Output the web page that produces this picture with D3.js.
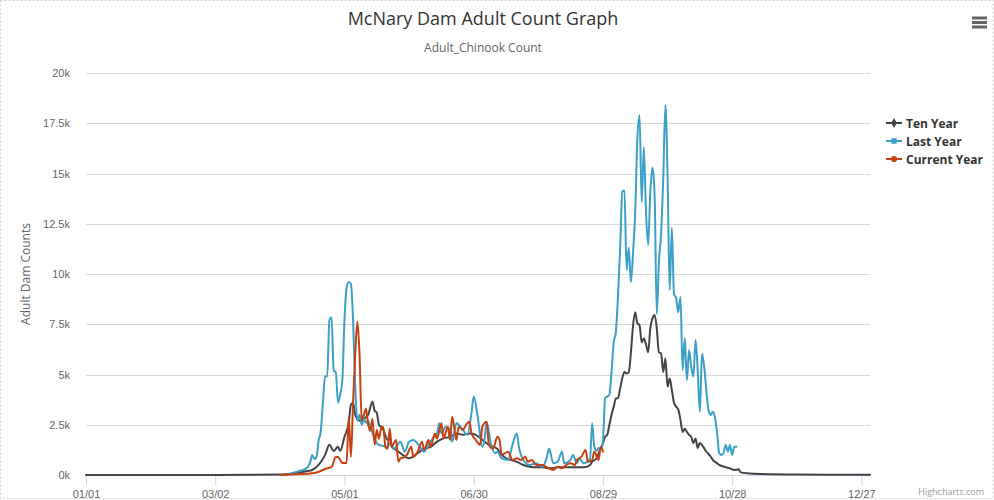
<!DOCTYPE html>
<html>
<head>
<meta charset="utf-8">
<script src="https://cdn.jsdelivr.net/npm/d3@7"></script>
<style>
  html, body { margin: 0; padding: 0; background: #fff; }
  svg { display: block; font-family: "Open Sans", "Noto Sans", sans-serif; }
</style>
</head>
<body>
<svg id="chart" width="994" height="500"></svg>
<script>
// ---------------- DATA (day offset from 01/01, adult count) ----------------
const chartTitle = "McNary Dam Adult Count Graph";
const chartSubtitle = "Adult_Chinook Count";
const yAxisTitle = "Adult Dam Counts";
const seriesNames = ["Ten Year", "Last Year", "Current Year"];
const yTickValues = [0, 2500, 5000, 7500, 10000, 12500, 15000, 17500, 20000];
const xTickDayOffsets = [0, 60, 120, 180, 240, 300, 360];

const tenYearCounts = [
  [0,0],[60,0],[90,20],[96,80],[100,150],[103,200],[105,250],[108,500],[111,1000],[113,1500],
  [115,1200],[117,1400],[118,1200],[120,1900],[122,2600],[123,3500],[124,3600],[125,3000],[127,2700],
  [129,2800],[131,3000],[133,3650],[134,3200],[135,3100],[136,2500],[137,2400],[138,2250],[140,1750],
  [141,1800],[142,1400],[144,1250],[147,1000],[150,830],[154,1080],[156,1250],[160,1400],[163,1660],
  [166,1820],[169,1900],[172,2070],[175,2000],[178,2070],[181,2000],[184,1750],[187,1500],[191,1300],
  [193,1000],[197,750],[200,660],[203,500],[206,410],[209,380],[212,380],[215,330],[219,380],[221,380],
  [225,380],[228,380],[231,380],[234,500],[235,660],[237,830],[238,1080],[240,1580],[241,1900],
  [242,2000],[243,2500],[244,3000],[245,3400],[246,3800],[247,3830],[248,4300],[249,4830],[250,5120],
  [251,5050],[252,5120],[253,6100],[254,7450],[255,8100],[256,7550],[257,7450],[258,6600],[259,6800],
  [260,6500],[261,6100],[262,7300],[263,7800],[264,7960],[265,7300],[266,6100],[267,6050],[268,5120],
  [269,5800],[270,4400],[271,4800],[272,4230],[273,3600],[274,3400],[275,3250],[276,2740],[277,2140],
  [278,2300],[279,2140],[280,2000],[281,1890],[282,1590],[283,1820],[284,1340],[285,1590],[286,1490],
  [288,1170],[290,920],[291,750],[293,580],[294,500],[296,420],[299,330],[301,250],[303,280],
  [304,130],[308,80],[313,50],[330,20],[364,10]
];

const lastYearCounts = [
  [90,0],[92,0],[96,100],[99,200],[102,300],[104,600],[105,1000],[106,800],[107,900],[108,1700],
  [109,2200],[110,3600],[111,4900],[112,4900],[113,7700],[114,7850],[115,5200],[116,5100],[117,3600],
  [118,4000],[119,4700],[120,7700],[121,9300],[122,9600],[123,9500],[124,7700],[125,4400],[126,2700],
  [127,3000],[128,2500],[129,2800],[130,2600],[131,2700],[132,2400],[133,2100],[134,1800],[136,1500],
  [138,1450],[140,1400],[141,1550],[143,1300],[146,1650],[148,1160],[150,1650],[152,1740],[154,1550],
  [155,1400],[157,1160],[159,1500],[161,1820],[163,2070],[164,2570],[165,2070],[167,2400],[169,2240],
  [170,1650],[172,2570],[175,2240],[177,2000],[179,3100],[180,3900],[182,2800],[184,1400],[185,1740],
  [186,2650],[188,1550],[190,1080],[191,1160],[193,830],[196,750],[198,1500],[200,2070],[201,1400],
  [203,750],[206,500],[209,580],[212,410],[214,910],[215,1300],[217,580],[219,660],[221,1160],
  [222,580],[225,750],[226,1000],[228,580],[229,830],[231,580],[234,800],[235,2570],[236,1400],
  [237,1200],[238,1340],[239,1300],[240,1640],[241,3830],[242,3900],[243,4000],[244,5120],[245,6600],
  [246,7100],[247,8900],[248,11300],[249,14100],[250,14150],[251,10200],[252,11300],[253,9600],
  [254,11100],[255,13080],[256,16770],[257,17900],[258,13580],[259,16300],[260,13080],[261,11440],
  [262,14080],[263,15300],[264,13900],[265,8000],[266,10600],[267,12000],[268,14750],[269,18400],
  [270,15000],[271,9200],[272,12300],[273,9000],[274,8800],[275,8100],[276,8860],[277,5220],
  [278,6800],[279,4730],[280,6220],[281,5390],[282,4900],[283,6720],[284,5220],[285,3130],[286,6050],
  [287,5390],[288,4230],[289,3230],[290,2990],[291,3150],[292,2890],[293,2090],[294,1090],[295,1000],
  [296,1100],[297,1490],[298,1160],[299,1490],[300,1000],[301,1400],[302,1400]
];

const currentYearCounts = [
  [90,0],[95,20],[100,50],[104,80],[106,100],[109,200],[111,300],[114,400],[116,900],[117,900],
  [119,600],[121,600],[122,2900],[123,900],[124,3600],[125,6000],[126,7630],[127,6000],[128,2700],
  [129,3000],[130,3300],[131,2500],[132,2200],[133,2800],[134,1500],[135,2240],[136,1800],[137,2300],
  [138,2400],[139,1400],[140,1300],[141,2300],[142,1400],[143,1600],[144,1740],[145,660],[146,830],
  [147,850],[148,900],[149,1000],[151,1400],[152,900],[153,1000],[154,1160],[156,1650],[157,1250],
  [159,1740],[160,1400],[162,2070],[163,1820],[165,2570],[166,1820],[168,2400],[169,1740],[170,2900],
  [172,1740],[173,2400],[175,2240],[176,2400],[177,2570],[178,2650],[179,2070],[181,1740],[183,1500],
  [184,2400],[186,2650],[187,1550],[189,1300],[191,1900],[192,1740],[193,1000],[196,1160],[198,750],
  [200,830],[202,750],[204,910],[205,660],[207,750],[209,500],[212,500],[214,380],[217,250],[219,410],
  [221,330],[223,500],[225,580],[227,500],[228,750],[230,910],[232,1250],[233,660],[235,750],
  [236,1160],[238,750],[239,1400],[240,1160]
];

// ---------------- CHART ----------------
const W = 994, H = 500;
const margin = { left: 86, right: 124, top: 73, bottom: 25 };
const plotR = W - margin.right, plotB = H - margin.bottom;
const yearStart = new Date(2023, 0, 1);
const dayToDate = d => d3.timeDay.offset(yearStart, d);

const svg = d3.select("#chart");

// dotted container border
svg.append("rect").attr("x", 0.5).attr("y", 0.5).attr("width", W - 1).attr("height", H - 2)
  .attr("fill", "none").attr("stroke", "#d0d0d0").attr("stroke-dasharray", "2,2");

const x = d3.scaleTime().domain([yearStart, new Date(2023, 11, 31)]).range([margin.left, plotR]);
const y = d3.scaleLinear().domain([0, 20000]).range([plotB, margin.top]);

// gridlines
svg.append("g").selectAll("line").data(yTickValues).join("line")
  .attr("x1", margin.left).attr("x2", plotR)
  .attr("y1", d => Math.round(y(d)) + 0.5).attr("y2", d => Math.round(y(d)) + 0.5)
  .attr("stroke", "#d8d8d8").attr("stroke-width", 1);

// y axis labels
const yAxis = d3.axisLeft(y).tickValues(yTickValues).tickSize(0).tickPadding(0)
  .tickFormat(d => (d / 1000) + "k");
const gy = svg.append("g").attr("transform", `translate(${margin.left - 16},0)`).call(yAxis);
gy.select(".domain").remove();
gy.selectAll("text").attr("fill", "#666").style("font-size", "11px");

// x axis
const xAxis = d3.axisBottom(x).tickValues(xTickDayOffsets.map(dayToDate))
  .tickSize(10).tickPadding(5).tickFormat(d3.timeFormat("%m/%d"));
const gx = svg.append("g").attr("transform", `translate(0,${plotB + 0.5})`).call(xAxis);
gx.select(".domain").attr("stroke", "#ccd6eb").attr("d", `M${margin.left},0H${plotR}`);
gx.selectAll(".tick line").attr("stroke", "#ccd6eb");
gx.selectAll("text").attr("fill", "#666").style("font-size", "11px");

// lines
const colors = ["#434348", "#3ba0c8", "#c8400f"];
const allSeries = [tenYearCounts, lastYearCounts, currentYearCounts];
const line = d3.line().x(d => x(dayToDate(d[0]))).y(d => y(d[1])).curve(d3.curveMonotoneX);
svg.append("g").selectAll("path").data(allSeries).join("path")
  .attr("d", line).attr("fill", "none")
  .attr("stroke", (d, i) => colors[i]).attr("stroke-width", 2)
  .attr("stroke-linejoin", "round").attr("stroke-linecap", "round");

// title / subtitle
svg.append("text").attr("x", 483).attr("y", 25).attr("text-anchor", "middle")
  .attr("fill", "#333").style("font-size", "18px").text(chartTitle);
svg.append("text").attr("x", 483).attr("y", 52).attr("text-anchor", "middle")
  .attr("fill", "#666").style("font-size", "12px").text(chartSubtitle);

// y axis title
svg.append("text").attr("transform", `translate(30,${(margin.top + plotB) / 2}) rotate(-90)`)
  .attr("text-anchor", "middle").attr("fill", "#666").style("font-size", "12px").text(yAxisTitle);

// legend
const legend = svg.append("g").attr("transform", "translate(886,123)");
const symbols = [d3.symbolDiamond, d3.symbolSquare, d3.symbolCircle];
const symSizes = [28, 30, 30];
seriesNames.forEach((name, i) => {
  const g = legend.append("g").attr("transform", `translate(0,${i * 18})`);
  g.append("line").attr("x1", 0).attr("x2", 16).attr("y1", 0).attr("y2", 0)
    .attr("stroke", colors[i]).attr("stroke-width", 2);
  g.append("path").attr("transform", "translate(8,0)")
    .attr("d", d3.symbol().type(symbols[i]).size(symSizes[i])()).attr("fill", colors[i]);
  g.append("text").attr("x", 20).attr("y", 4.5).attr("fill", "#333")
    .style("font-size", "12px").style("font-weight", "bold").text(name);
});

// export menu icon
const menu = svg.append("g");
[18, 22.5, 27].forEach(yy => {
  menu.append("line").attr("x1", 972).attr("x2", 987).attr("y1", yy).attr("y2", yy)
    .attr("stroke", "#666").attr("stroke-width", 3);
});

// credits
svg.append("text").attr("x", 984).attr("y", 495).attr("text-anchor", "end")
  .attr("fill", "#999").style("font-size", "9px").text("Highcharts.com");
</script>
</body>
</html>
